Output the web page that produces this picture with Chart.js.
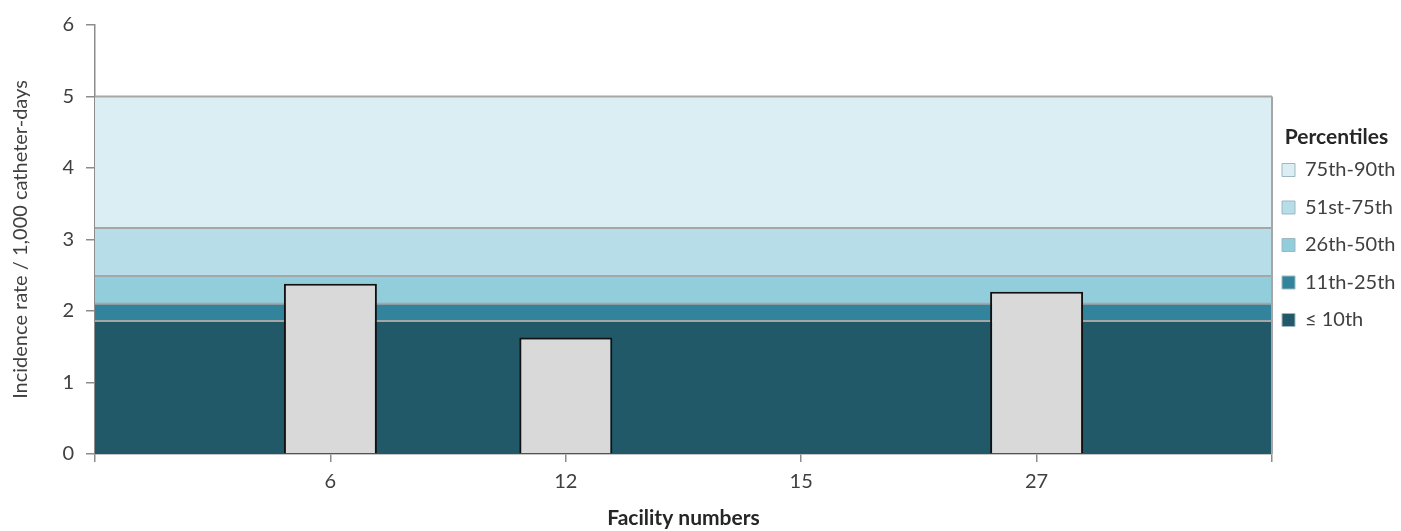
<!DOCTYPE html>
<html>
<head>
<meta charset="utf-8">
<script src="https://cdn.jsdelivr.net/npm/chart.js@4/dist/chart.umd.min.js"></script>
<style>
  html, body { margin: 0; padding: 0; background: #fff; }
  #wrap { width: 1401px; height: 531px; }
</style>
</head>
<body>
<div id="wrap"><canvas id="chart"></canvas></div>
<script>
// facility categories (blank slots at both ends, as in the source chart)
const facilities = ['', '6', '12', '15', '27', ' '];
const rates = [null, 2.38, 1.63, 0, 2.27, null];

// upper limit of each percentile band
const bandNames = ['\u2264 10th', '11th-25th', '26th-50th', '51st-75th', '75th-90th'];
const bandTops = [1.86, 2.10, 2.49, 3.16, 5];
const bandColors = ['#215968', '#31849b', '#92cddc', '#b7dee8', '#daeef3'];
const yTicks = [0, 1, 2, 3, 4, 5, 6];

const txt = '#404040';
const axisGray = '#8c8c8c';
const bandLine = '#a6a6a6';
const lastCat = facilities[facilities.length - 1];

const datasets = [];
bandTops.forEach((top, i) => {
    datasets.push({
        type: 'line',
        label: bandNames[i],
        data: facilities.map(() => top),
        backgroundColor: bandColors[i],
        borderColor: bandLine,
        borderWidth: 2,
        pointRadius: 0,
        fill: i === 0 ? 'origin' : '-1',
        order: 2
    });
});

// right edge of the band block
datasets.push({
    type: 'line',
    label: 'edge',
    data: [{ x: lastCat, y: 0 }, { x: lastCat, y: bandTops[bandTops.length - 1] }],
    borderColor: bandLine,
    borderWidth: 2,
    pointRadius: 0,
    fill: false,
    order: 1
});

datasets.push({
    type: 'bar',
    label: 'rate',
    data: rates,
    backgroundColor: '#d9d9d9',
    borderColor: '#111',
    borderWidth: 2,
    categoryPercentage: 1,
    barPercentage: 0.395,
    order: 0
});

new Chart(document.getElementById('chart'), {
    type: 'bar',
    data: { labels: facilities, datasets },
    options: {
        responsive: true,
        maintainAspectRatio: false,
        animation: false,
        layout: { padding: { top: 25, left: 0, right: 0, bottom: 0 } },
        plugins: {
            tooltip: { enabled: false },
            legend: {
                position: 'right',
                align: 'start',
                maxWidth: 129,
                reverse: true,
                title: {
                    display: true,
                    text: 'Percentiles',
                    position: 'center',
                    color: '#262626',
                    font: { family: 'Lato', size: 21, weight: 'bold', lineHeight: 1 },
                    padding: { top: 102, bottom: 2 }
                },
                labels: {
                    color: txt,
                    font: { family: 'Lato', size: 20, lineHeight: '27.5px' },
                    boxWidth: 13,
                    boxHeight: 13,
                    padding: 10,
                    generateLabels: (chart) => {
                        const items = Chart.defaults.plugins.legend.labels.generateLabels(chart)
                            .filter(it => it.datasetIndex < bandNames.length);
                        items.forEach(it => {
                            it.text = [it.text];
                            it.lineWidth = 1;
                            it.strokeStyle = '#9fb8bf';
                        });
                        return items;
                    }
                }
            }
        },
        scales: {
            x: {
                offset: false,
                grid: { display: true, offset: false, drawOnChartArea: false, tickLength: 8, color: axisGray, lineWidth: 1.5 },
                border: { color: axisGray, width: 1.5 },
                ticks: { color: txt, font: { family: 'Lato', size: 20 }, padding: 8, maxRotation: 0, autoSkip: false },
                title: {
                    display: true,
                    text: 'Facility numbers',
                    color: '#262626',
                    font: { family: 'Lato', size: 21, weight: 'bold' },
                    padding: { top: 0, bottom: 0 }
                },
                afterFit: (s) => { s.height = 77; }
            },
            y: {
                min: 0,
                max: 6,
                afterBuildTicks: (s) => { s.ticks = yTicks.map(v => ({ value: v })); },
                grid: { display: true, drawOnChartArea: false, tickLength: 9, color: axisGray, lineWidth: 1.5 },
                border: { color: axisGray, width: 1.5 },
                ticks: { color: txt, font: { family: 'Lato', size: 20 }, padding: 12 },
                title: {
                    display: true,
                    text: 'Incidence rate / 1,000 catheter-days',
                    color: txt,
                    font: { family: 'Lato', size: 20 },
                    padding: { top: 9, bottom: 0 }
                },
                afterFit: (s) => { s.width = 95; }
            }
        }
    }
});
</script>
</body>
</html>
